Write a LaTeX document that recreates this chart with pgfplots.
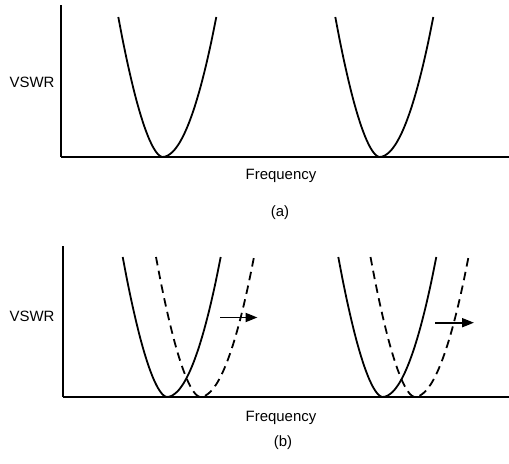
\documentclass[border=0pt]{standalone}
\usepackage{pgfplots}
\pgfplotsset{compat=1.18}
\usepackage{pgfplotstable}
\usetikzlibrary{arrows.meta}
\usepackage{fontspec}
\setmainfont{Liberation Sans}

% shared height profile h, x positions of each curve
\pgfplotstableread{
h     a1    a2    bsa   bda   bsb   bdb
140.0 118.3 335.3 122.7 156.0 338.3 370.5
117.0 122.7 339.7 127.1 160.4 342.7 374.9
95.8  127.1 344.1 131.5 164.8 347.1 379.3
76.4  131.5 348.5 135.9 169.2 351.5 383.7
58.7  135.9 352.9 140.3 173.6 355.9 388.1
43.1  140.3 357.3 144.7 178.0 360.3 392.5
29.5  144.7 361.7 149.1 182.4 364.7 396.9
18.1  149.1 366.1 153.5 186.8 369.1 401.3
9.1   153.5 370.5 157.9 191.2 373.5 405.7
2.8   157.9 374.9 162.3 195.6 377.9 410.1
0.0   162.3 379.3 166.7 200.0 382.3 414.5
1.4   167.7 384.7 172.1 205.4 387.7 419.9
5.6   173.1 390.1 177.5 210.8 393.1 425.3
12.6  178.5 395.5 182.9 216.2 398.5 430.7
22.4  183.9 400.9 188.3 221.6 403.9 436.1
35.0  189.3 406.3 193.7 227.0 409.3 441.5
50.4  194.7 411.7 199.1 232.4 414.7 446.9
68.6  200.1 417.1 204.5 237.8 420.1 452.3
89.6  205.5 422.5 209.9 243.2 425.5 457.7
113.4 210.9 427.9 215.3 248.6 430.9 463.1
140.0 216.3 433.3 220.7 254.0 436.3 468.5
}\curves

\tikzset{lbl/.style={font=\fontsize{15}{18}\selectfont}}
\pgfplotsset{
  vswr/.style={
    scale only axis, clip=false,
    axis x line=bottom, axis y line=left,
    axis line style={-, line width=1.4bp, black},
    xtick=\empty, ytick=\empty,
    anchor=south west,
  },
  curve/.style={black, line width=1.8bp, smooth, no markers},
  dcurve/.style={black, line width=1.8bp, smooth, no markers, dash pattern=on 8.5bp off 5.5bp},
  shift/.style={black, line width=1.8bp, no markers, -{Triangle[length=12bp,width=9bp]}},
}

\begin{document}
\begin{tikzpicture}
\useasboundingbox (0,0) rectangle (509bp,464bp);
% (a)
\begin{axis}[vswr, at={(61bp,307bp)}, width=448bp, height=152bp,
  xmin=61, xmax=509, ymin=0, ymax=152]
  \addplot[curve] table[x=a1, y=h] {\curves};
  \addplot[curve] table[x=a2, y=h] {\curves};
  \node[lbl] at (axis cs:32,75) {VSWR};
  \node[lbl] at (axis cs:281,-19) {Frequency};
  \node[lbl] at (axis cs:280,-56) {(a)};
\end{axis}
% (b)
\begin{axis}[vswr, at={(63bp,67bp)}, width=446bp, height=151bp,
  xmin=63, xmax=509, ymin=0, ymax=151]
  \addplot[curve] table[x=bsa, y=h] {\curves};
  \addplot[dcurve] table[x=bda, y=h] {\curves};
  \addplot[curve] table[x=bsb, y=h] {\curves};
  \addplot[dcurve] table[x=bdb, y=h] {\curves};
  \addplot[shift] coordinates {(220,79.5) (257.5,79.5)};
  \addplot[shift] coordinates {(435,74.3) (474,74.3)};
  \node[lbl] at (axis cs:32,81) {VSWR};
  \node[lbl] at (axis cs:281,-21) {Frequency};
  \node[lbl] at (axis cs:283,-46) {(b)};
\end{axis}
\end{tikzpicture}
\end{document}
